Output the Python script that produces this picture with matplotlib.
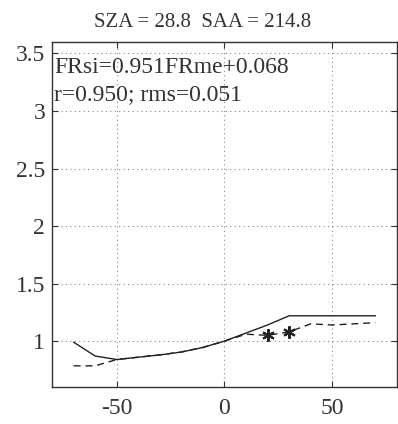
import matplotlib
matplotlib.use("Agg")
import matplotlib.pyplot as plt

# solid curve
solid_x = [-70, -60, -50, -40, -30, -20, -10, 0, 10, 20, 30, 40, 50, 60, 70]
solid_y = [0.99, 0.87, 0.84, 0.86, 0.88, 0.905, 0.945, 1.0, 1.07, 1.14, 1.22, 1.22, 1.22, 1.22, 1.22]

# dashed curve
dash_x = [-70, -60, -50, -40, -30, -20, -10, 0, 10, 20, 30, 40, 50, 60, 70]
dash_y = [0.785, 0.785, 0.84, 0.86, 0.88, 0.905, 0.945, 1.0, 1.06, 1.05, 1.08, 1.15, 1.14, 1.15, 1.16]

# star markers
star_x = [20, 30]
star_y = [1.05, 1.08]

title = "SZA = 28.8  SAA = 214.8"
eq_text = "FRsi=0.951FRme+0.068\nr=0.950; rms=0.051"

plt.rcParams['font.family'] = ['Liberation Serif', 'DejaVu Serif']

fig = plt.figure(figsize=(3.98, 4.24), dpi=100)
ax = fig.add_axes([0.131, 0.087, 0.866, 0.814])

ax.plot(solid_x, solid_y, color='#222222', linewidth=1.0)
ax.plot(dash_x, dash_y, color='#222222', linewidth=1.0, linestyle=(0, (5, 3.5)))
ax.plot(star_x, star_y, linestyle='none', marker=(6, 2, 0), color='#222222',
        markersize=9, markeredgewidth=1.5)

ax.set_xlim(-80, 80)
ax.set_ylim(0.6, 3.6)
ax.set_xticks([-50, 0, 50])
ax.set_xticklabels(['-50', '0', '50'])
ax.set_yticks([1, 1.5, 2, 2.5, 3, 3.5])
ax.set_yticklabels(['1', '1.5', '2', '2.5', '3', '3.5'])
ax.grid(True, linestyle=(0, (1, 3)), color='#888888', linewidth=0.8)
ax.tick_params(direction='in', top=True, right=True, labelsize=17, length=4,
               color='#333333', labelcolor='#333333', pad=5)
ax.tick_params(axis='x', pad=8)
for s in ax.spines.values():
    s.set_color('#333333')
    s.set_linewidth(1.0)

ax.text(-79, 3.47, eq_text, fontsize=17, color='#333333', va='top', ha='left', linespacing=1.4)
fig.text(0.51, 0.948, title, fontsize=15, color='#333333', ha='center', va='center')

fig.savefig("out.png", dpi=100)
